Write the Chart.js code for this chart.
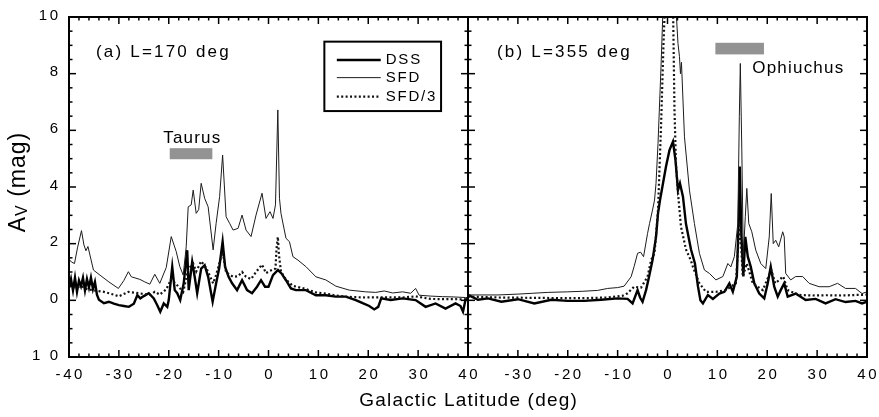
<!DOCTYPE html>
<html><head><meta charset="utf-8">
<script src="https://cdn.jsdelivr.net/npm/chart.js@4.4.1/dist/chart.umd.min.js"></script>
<style>html,body{margin:0;padding:0;background:#fff;}#wrap{width:879px;height:417px;}</style>
</head><body><div id="wrap"><canvas id="c" width="879" height="417"></canvas></div>
<script>
// ---------- Panel (a) L=170 deg ----------
const latA_SFD = [
 -40, -39.5, -38.9, -38.3, -37.5, -37.0, -36.6, -36.2, -35.8, -35.1,
 -33.8, -32.0, -30.1, -29.0, -28.1, -27.5, -25.8, -24.8, -23.8, -22.8,
 -21.8, -20.5, -19.5, -18.5, -17.8, -17.1, -16.5, -16.1, -15.5, -15.1,
 -14.5, -14.0, -13.5, -12.8, -12.1, -11.1, -10.5, -9.8, -9.2, -8.5,
 -7.8, -7.1, -6.1, -5.3, -4.5, -3.5, -2.5, -1.3, -0.5, 0.3,
 0.9, 1.4, 1.87, 2.2, 2.5, 3.5, 4.2, 4.9, 5.9, 7.5,
 9.5, 11.5, 13.5, 16.2, 19.5, 21.5, 23.2, 24.9, 26.9, 28.5,
 29.5, 30.2, 32.5, 34.9, 37.0, 39.5, 40];
const valA_SFD = [
 1.45, 1.35, 1.3, 1.85, 2.46, 1.95, 1.75, 1.9, 1.6, 1.07,
 0.89, 0.65, 0.42, 0.7, 1.01, 0.83, 0.74, 0.65, 0.57, 0.92,
 0.6, 1.16, 2.25, 1.72, 1.2, 0.89, 1.89, 3.3, 3.37, 3.89,
 3.07, 3.2, 4.13, 3.6, 3.3, 1.78, 2.72, 3.66, 5.13, 2.95,
 2.72, 2.48, 2.54, 3.01, 2.48, 2.25, 3.01, 3.78, 2.89, 3.13,
 2.89, 3.37, 6.72, 3.6, 3.07, 2.19, 2.07, 1.54, 1.42, 1.19,
 0.83, 0.72, 0.5, 0.36, 0.3, 0.28, 0.33, 0.26, 0.3, 0.25,
 0.42, 0.18, 0.15, 0.13, 0.12, 0.1, 0.1];

const latA_DSS = [
 -40, -39.6, -39.2, -38.8, -38.4, -38.0, -37.6, -37.2, -36.8, -36.4,
 -36.0, -35.6, -35.2, -34.8, -34.4, -34.0, -33.0, -32.0, -31.0, -30.0,
 -29.0, -28.0, -27.0, -26.3, -25.7, -25.0, -24.0, -23.0, -22.3, -21.7,
 -21.0, -20.3, -20.0, -19.3, -18.8, -18.3, -17.7, -17.0, -16.3, -16.0,
 -15.3, -14.8, -14.3, -13.5, -12.8, -12.1, -11.2, -10.5, -9.9, -9.2,
 -8.7, -8.0, -7.3, -6.3, -5.3, -4.3, -3.3, -2.3, -1.5, -0.7,
 0.0, 0.9, 1.9, 2.6, 3.5, 4.5, 5.5, 7.5, 9.5, 11.5,
 13.5, 15.5, 17.5, 19.0, 20.2, 21.2, 22.0, 22.6, 24.5, 26.9,
 29.5, 31.5, 33.5, 35.5, 37.5, 38.5, 39.0, 39.5, 40];
const valA_DSS = [
 0.45, 0.75, 0.35, 0.8, 0.3, 0.7, 0.5, 0.8, 0.35, 0.75,
 0.45, 0.8, 0.4, 0.65, 0.2, 0.02, -0.1, -0.05, -0.12, -0.17,
 -0.2, -0.23, -0.12, 0.18, 0.07, 0.15, 0.25, 0.07, -0.17, -0.4,
 -0.11, -0.23, 0.01, 1.18, 0.36, 0.25, 0.01, 0.6, 1.77, 0.36,
 1.36, 0.83, 0.25, 1.12, 1.24, 0.83, -0.05, 0.6, 1.12, 2.07,
 1.18, 0.83, 0.6, 0.36, 0.71, 0.36, 0.25, 0.48, 0.71, 0.48,
 0.48, 0.89, 1.07, 0.95, 0.71, 0.42, 0.36, 0.36, 0.18, 0.18,
 0.13, 0.13, 0.01, -0.11, -0.2, -0.32, -0.23, 0.07, 0.01, 0.07,
 0.01, -0.23, -0.11, -0.29, -0.11, -0.2, -0.4, 0.02, 0.05];

const latA_SFD3 = [
 -40, -38.5, -37.5, -36.5, -35.0, -33.0, -31.0, -30.0, -28.1, -26.0,
 -23.8, -22.8, -21.8, -20.5, -19.5, -18.5, -17.1, -16.1, -15.1, -14.5,
 -13.5, -12.5, -11.1, -10.5, -9.2, -8.5, -7.1, -6.1, -5.3, -4.5,
 -3.5, -2.5, -1.3, -0.5, 0.3, 1.4, 1.6, 1.87, 2.1, 2.5,
 3.5, 4.9, 5.9, 7.5, 9.5, 11.5, 13.5, 16.2, 19.5, 23.2,
 26.9, 29.5, 32.5, 35.0, 37.5, 40];
const valA_SFD3 = [
 0.5, 0.45, 0.5, 0.4, 0.35, 0.3, 0.2, 0.14, 0.3, 0.25,
 0.19, 0.3, 0.2, 0.39, 0.75, 0.57, 0.3, 1.1, 1.3, 1.02,
 1.38, 1.15, 0.6, 0.9, 1.71, 0.98, 0.83, 0.85, 1.0, 0.83,
 0.75, 1.0, 1.26, 0.96, 1.04, 1.12, 1.8, 2.24, 1.6, 1.02,
 0.73, 0.51, 0.47, 0.4, 0.28, 0.24, 0.17, 0.12, 0.1, 0.11,
 0.1, 0.14, 0.05, 0.04, 0.04, 0.03];

// ---------- Panel (b) L=355 deg ----------
const latB_SFD = [
 -40, -37, -34, -30, -27, -24, -20, -17, -14, -12,
 -10, -8.7, -7.3, -6.7, -6.0, -5.4, -4.8, -4.0, -3.6, -3.0,
 -2.6, -2.3, -1.9, -1.3, -0.9, -0.5, 0.3, 1.0, 1.7, 2.1,
 2.4, 2.6, 2.8, 3.4, 4.4, 5.4, 6.4, 7.4, 8.4, 9.7,
 11.1, 12.1, 12.7, 13.4, 14.1, 14.4, 14.6, 14.9, 15.2, 15.6,
 15.9, 16.3, 16.9, 17.7, 18.7, 19.7, 20.4, 20.8, 21.2, 21.7,
 22.3, 23.1, 23.4, 23.7, 24.7, 25.7, 27.1, 28.4, 30.4, 32.4,
 34.1, 35.7, 37.7, 39.0, 40];
const valB_SFD = [
 0.19, 0.19, 0.19, 0.22, 0.25, 0.28, 0.3, 0.32, 0.35, 0.42,
 0.45, 0.5, 0.83, 1.19, 1.66, 1.7, 1.54, 2.36, 2.71, 3.19,
 3.54, 4.13, 5.54, 8.25, 10.3, 13, 15, 13, 10.3, 9.07,
 8.6, 8.0, 8.4, 5.77, 3.89, 2.71, 1.66, 1.07, 0.95, 0.72,
 0.84, 1.3, 1.18, 1.54, 2.71, 6.48, 8.36, 5.3, 1.54, 2.95,
 3.95, 2.71, 2.42, 1.77, 1.3, 1.12, 2.24, 3.77, 2.0, 2.12,
 1.89, 2.42, 2.24, 0.95, 0.72, 0.84, 0.84, 0.6, 0.48, 0.48,
 0.6, 0.42, 0.42, 0.24, 0.3];

const latB_DSS = [
 -40, -38, -36, -33.3, -30, -26.7, -23.3, -20, -16.7, -13.3,
 -10, -8, -7, -6.0, -5.5, -5.0, -4.3, -3.7, -3.0, -2.3,
 -1.9, -1.5, -0.9, -0.3, 0.4, 1.1, 1.6, 2.1, 2.5, 3.1,
 3.7, 4.7, 5.5, 6.1, 6.6, 7.1, 8.1, 9.1, 10.4, 11.4,
 12.4, 13.1, 13.9, 14.3, 14.5, 14.8, 15.2, 15.6, 16.1, 16.7,
 17.4, 18.4, 19.4, 20.1, 20.7, 21.4, 22.1, 22.7, 23.4, 24.1,
 25.7, 27.7, 29.7, 31.7, 33.7, 35.7, 37.7, 39.0, 40];
const valB_DSS = [
 0.19, 0.02, 0.07, -0.05, 0.04, -0.11, 0.02, -0.02, -0.02, 0.02,
 0.07, 0.05, -0.11, 0.36, 0.1, -0.05, 0.36, 0.83, 1.42, 2.24,
 3.07, 3.54, 4.13, 4.72, 5.3, 5.6, 4.95, 3.89, 4.13, 3.66,
 2.7, 1.8, 1.3, 0.5, 0.0, -0.11, 0.19, 0.05, 0.24, 0.3,
 0.6, 0.3, 0.84, 2.95, 4.72, 2.36, 0.84, 2.24, 1.54, 1.18,
 0.6, 0.24, 0.07, 0.6, 1.18, 0.48, 0.13, 0.36, 0.6, 0.13,
 0.24, 0.01, 0.05, -0.11, 0.04, -0.06, -0.02, -0.11, -0.05];

const latB_SFD3 = [
 -40, -34, -28, -22, -16, -12, -9, -8, -6.7, -5.3,
 -4.0, -3.3, -2.6, -1.9, -1.3, -0.8, -0.5, 0.3, 1.1, 1.4,
 1.7, 2.1, 2.7, 3.7, 4.7, 5.1, 6.4, 7.7, 9.7, 11.7,
 13.7, 14.3, 14.5, 14.8, 15.1, 15.9, 17.1, 19.1, 20.8, 21.6,
 23.2, 24.1, 26.4, 29, 32, 35, 38, 40];
const valB_SFD3 = [
 0.13, 0.1, 0.09, 0.08, 0.08, 0.1, 0.16, 0.25, 0.48, 0.45,
 0.83, 1.42, 1.66, 3.19, 6.13, 9.07, 10.5, 13, 10.5, 6.72,
 4.8, 3.8, 2.6, 1.8, 1.4, 1.18, 0.6, 0.3, 0.3, 0.36,
 0.6, 2.24, 2.79, 1.8, 0.84, 1.3, 0.6, 0.36, 1.07, 0.6,
 0.84, 0.36, 0.19, 0.17, 0.18, 0.17, 0.19, 0.2];

// ---------- Axes / labels ----------
const xTickValues = [-40, -30, -20, -10, 0, 10, 20, 30, 40, 50, 60, 70, 80, 90, 100, 110, 120];
const xTickLabels = ['-40','-30','-20','-10','0','10','20','30','40','-30','-20','-10','0','10','20','30','40'];
const yTickValues = [-2, 0, 2, 4, 6, 8, 10];
const yTickLabels = ['1 0','0','2','4','6','8','10'];
const panelOffsetB = 80;      // panel (b) sits to the right of panel (a)
const legendNames = ['DSS', 'SFD', 'SFD/3'];
const panelTitles = ['(a) L=170 deg', '(b) L=355 deg'];
const regionNames = ['Taurus', 'Ophiuchus'];
// region bars: [latFrom, latTo, avFrom, avTo]
const taurusBar = [-19.8, -11.26, 4.98, 5.37];
const ophiuchusBar = [9.6, 19.34, 8.68, 9.09];

const FONT = '"Liberation Sans", Arial, Helvetica, sans-serif';
function pts(lats, vals, off) { return lats.map((x, i) => ({ x: x + off, y: vals[i] })); }

const styleSFD  = { borderColor: '#1c1c1c', borderWidth: 1 };
const styleSFD3 = { borderColor: '#111', borderWidth: 2.2, borderDash: [2, 2.4] };
const styleDSS  = { borderColor: '#000', borderWidth: 2.4 };
const common = { pointRadius: 0, tension: 0, fill: false, clip: 0 };

const datasets = [
  Object.assign({ label: 'SFD a', data: pts(latA_SFD, valA_SFD, 0) }, styleSFD, common),
  Object.assign({ label: 'SFD/3 a', data: pts(latA_SFD3, valA_SFD3, 0) }, styleSFD3, common),
  Object.assign({ label: 'DSS a', data: pts(latA_DSS, valA_DSS, 0) }, styleDSS, common),
  Object.assign({ label: 'SFD b', data: pts(latB_SFD, valB_SFD, panelOffsetB) }, styleSFD, common),
  Object.assign({ label: 'SFD/3 b', data: pts(latB_SFD3, valB_SFD3, panelOffsetB) }, styleSFD3, common),
  Object.assign({ label: 'DSS b', data: pts(latB_DSS, valB_DSS, panelOffsetB) }, styleDSS, common)
];

function txt(ctx, s, x, y, size, spacing, align, base) {
  ctx.font = size + 'px ' + FONT;
  ctx.letterSpacing = spacing + 'px';
  ctx.textAlign = 'left';
  ctx.textBaseline = base || 'middle';
  let w = ctx.measureText(s).width - spacing;
  let x0 = x;
  if (align === 'center') x0 = x - w / 2;
  else if (align === 'right') x0 = x - w;
  ctx.fillText(s, x0, y);
}
function seg(ctx, x1, y1, x2, y2) { ctx.beginPath(); ctx.moveTo(x1, y1); ctx.lineTo(x2, y2); ctx.stroke(); }

const deco = {
  id: 'deco',
  beforeDatasetsDraw(chart) {
    const ctx = chart.ctx, xs = chart.scales.x, ys = chart.scales.y;
    ctx.save();
    ctx.fillStyle = '#939393';
    [[taurusBar, 0], [ophiuchusBar, panelOffsetB]].forEach(([b, off]) => {
      const x1 = xs.getPixelForValue(b[0] + off), x2 = xs.getPixelForValue(b[1] + off);
      const y1 = ys.getPixelForValue(b[3]), y2 = ys.getPixelForValue(b[2]);
      ctx.fillRect(x1, y1, x2 - x1, y2 - y1);
    });
    ctx.restore();
  },
  afterDraw(chart) {
    const ctx = chart.ctx, xs = chart.scales.x, ys = chart.scales.y, a = chart.chartArea;
    ctx.save();
    ctx.strokeStyle = '#000'; ctx.fillStyle = '#000';
    // frame
    ctx.lineWidth = 2;
    ctx.strokeRect(a.left, a.top, a.right - a.left, a.bottom - a.top);
    const xm = xs.getPixelForValue(40);
    seg(ctx, xm, a.top, xm, a.bottom);
    // x ticks
    ctx.lineWidth = 1.5;
    for (let v = -40; v <= 120; v += 2) {
      const px = xs.getPixelForValue(v);
      const len = (v % 10 === 0) ? 7 : 3.5;
      seg(ctx, px, a.bottom, px, a.bottom - len);
      seg(ctx, px, a.top, px, a.top + len);
    }
    // y ticks
    for (let v = -2; v <= 10; v += 0.5) {
      const py = ys.getPixelForValue(v);
      const len = (Math.abs(v % 2) < 1e-9) ? 7 : 3.5;
      seg(ctx, a.left, py, a.left + len, py);
      seg(ctx, a.right, py, a.right - len, py);
      seg(ctx, xm - len, py, xm + len, py);
    }
    // tick labels
    xTickValues.forEach((v, i) => txt(ctx, xTickLabels[i], xs.getPixelForValue(v), a.bottom + 18, 15, 2.6, 'center'));
    yTickValues.forEach((v, i) => txt(ctx, yTickLabels[i], a.left - 11, ys.getPixelForValue(v) - 1.5, 15, 2.6, 'right'));
    // x title
    txt(ctx, 'Galactic Latitude (deg)', (a.left + a.right) / 2, 401, 19, 1.2, 'center');
    // y title: A with subscript V, then (mag)
    ctx.save();
    ctx.translate(20, 182);
    ctx.rotate(-Math.PI / 2);
    ctx.letterSpacing = '1px';
    ctx.font = '23px ' + FONT; const wA = ctx.measureText('A').width;
    ctx.font = '16px ' + FONT; const wV = ctx.measureText('V').width;
    ctx.font = '23px ' + FONT; const wM = ctx.measureText(' (mag)').width;
    let x0 = -(wA + wV + wM) / 2;
    ctx.textBaseline = 'alphabetic'; ctx.textAlign = 'left';
    ctx.font = '23px ' + FONT; ctx.fillText('A', x0, 5);
    ctx.font = '16px ' + FONT; ctx.fillText('V', x0 + wA, 7);
    ctx.font = '23px ' + FONT; ctx.fillText(' (mag)', x0 + wA + wV, 5);
    ctx.restore();
    // panel titles
    txt(ctx, panelTitles[0], xs.getPixelForValue(-34.6), ys.getPixelForValue(8.75), 17, 2.2, 'left');
    txt(ctx, panelTitles[1], xs.getPixelForValue(-34.2 + panelOffsetB), ys.getPixelForValue(8.75), 17, 2.2, 'left');
    // region names
    txt(ctx, regionNames[0], xs.getPixelForValue(-15.4), ys.getPixelForValue(5.71), 17, 1.2, 'center');
    txt(ctx, regionNames[1], xs.getPixelForValue(17 + panelOffsetB), ys.getPixelForValue(8.2), 17, 1.2, 'left');
    // legend box
    const lx1 = xs.getPixelForValue(11.2), lx2 = xs.getPixelForValue(34.6);
    const ly1 = ys.getPixelForValue(9.13), ly2 = ys.getPixelForValue(6.68);
    ctx.lineWidth = 2;
    ctx.strokeRect(lx1, ly1, lx2 - lx1, ly2 - ly1);
    const ent = [[styleDSS, 8.48], [styleSFD, 7.86], [styleSFD3, 7.19]];
    ent.forEach(([st, yv], i) => {
      const py = ys.getPixelForValue(yv);
      ctx.save();
      ctx.strokeStyle = st.borderColor; ctx.lineWidth = st.borderWidth;
      ctx.setLineDash(st.borderDash || []);
      seg(ctx, xs.getPixelForValue(13.7), py, xs.getPixelForValue(22.5), py);
      ctx.restore();
      txt(ctx, legendNames[i], xs.getPixelForValue(23.5), py, 15, 1.8, 'left');
    });
    ctx.restore();
  }
};

new Chart(document.getElementById('c'), {
  type: 'line',
  data: { datasets },
  options: {
    responsive: false, animation: false, devicePixelRatio: 1,
    layout: { padding: { left: 69, right: 12, top: 17, bottom: 60 } },
    plugins: { legend: { display: false }, tooltip: { enabled: false } },
    scales: {
      x: { type: 'linear', display: false, min: -40, max: 120 },
      y: { type: 'linear', display: false, min: -2, max: 10 }
    }
  },
  plugins: [deco]
});
</script></body></html>
